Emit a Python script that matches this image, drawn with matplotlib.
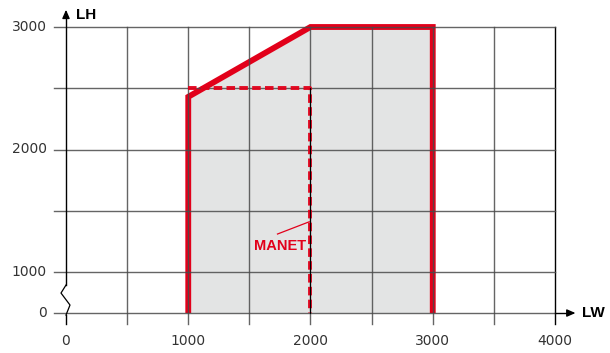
"""
Working range chart (LW x LH) with a broken y axis.
"""

import matplotlib
matplotlib.use('Agg')
import matplotlib.pyplot as plt

# Chart data
outline_x = [1000, 1000, 2000, 3000, 3000]
outline_y = [0, 2430, 3000, 3000, 0]
manet_x = [1000, 2000, 2000]
manet_y = [2500, 2500, 0]
x_grid = [500, 1000, 1500, 2000, 2500, 3000, 3500]
y_grid = [0, 1000, 1500, 2000, 2500, 3000]
x_labels = [0, 1000, 2000, 3000, 4000]
y_labels = [0, 1000, 2000, 3000]

RED = '#e2001a'
FILL = '#e3e4e4'
GRID = '#4a4a4a'
TEXT = '#333333'

# 0..1000 is squeezed (axis break)
SQUEEZE = 0.335


def fy(v):
    """Map an LH value to the plotted (broken) scale."""
    if v >= 1000:
        return v
    return 1000 - (1000 - v) * SQUEEZE


fig = plt.figure(figsize=(6.1, 3.53), dpi=100)
ax = fig.add_axes([0, 0, 1, 1])
ax.axis('off')

# pixel geometry: x0 at px 66, 122.25 px / 1000 ; y3000 at px 27, 122.5 px / 1000
ax.set_xlim(-66 / 0.12225, (610 - 66) / 0.12225)
ax.set_ylim(3000 - (353 - 27) / 0.1225, 3000 + 27 / 0.1225)

y_bottom = 3000 - (324 - 27) / 0.1225
x_left = -95

# fill + outline
oy = [fy(v) for v in outline_y]
ax.fill(outline_x, oy, color=FILL, zorder=1, lw=0)
ax.plot(outline_x, oy, color=RED, lw=4.2, solid_joinstyle='miter',
        solid_capstyle='butt', zorder=2)

# grid (drawn under the dashed limit, over the outline)
for gx in x_grid:
    ax.plot([gx, gx], [y_bottom, 3000], color=GRID, lw=1.0, alpha=0.85, zorder=3)
ax.plot([4000, 4000], [y_bottom, 3000], color='black', lw=1.0, zorder=3)
for gy in y_grid:
    ax.plot([x_left, 4000], [fy(gy), fy(gy)], color=GRID, lw=1.0, alpha=0.85, zorder=3)

# dashed MANET limit
my = [fy(v) for v in manet_y]
ax.plot(manet_x, my, color=RED, lw=2.8, linestyle=(0, (2.2, 1.1)),
        dash_capstyle='butt', zorder=4, alpha=0.95)
# thin black line through the vertical dashes, as in the reference
ax.plot([2000, 2000], [fy(0), 2500], color='black', lw=0.8, zorder=4.5)

# x axis extension + arrow
ax.plot([4000, 4120], [fy(0), fy(0)], color='black', lw=1.0, zorder=3)
ax.annotate('', xy=(4190, fy(0)), xytext=(4100, fy(0)),
            arrowprops=dict(arrowstyle='-|>,head_length=0.5,head_width=0.22',
                            color='black', lw=1.0), zorder=4)

# y axis with break zigzag
px = 1 / 0.1225  # one pixel in y units
pxx = 1 / 0.12225
y0 = fy(0)
ax.plot([0, 0], [y0 - 11 * px, y0 - 2 * px], color='black', lw=1.0, zorder=4)
ax.plot([0, 4 * pxx, -5 * pxx, 0], [y0 - 2 * px, y0 + 8 * px, y0 + 20 * px, y0 + 28 * px],
        color='black', lw=0.9, zorder=4)
ax.plot([0, 0], [y0 + 28 * px, 3100], color='black', lw=1.0, zorder=4)
ax.annotate('', xy=(0, 3000 + 20 * px), xytext=(0, 3080),
            arrowprops=dict(arrowstyle='-|>,head_length=0.5,head_width=0.22',
                            color='black', lw=1.0), zorder=4)

# tick labels
for v in x_labels:
    ax.text(v, y0 - 28 * px, f'{v}', ha='center', va='center',
            fontsize=10, color=TEXT, family='DejaVu Sans')
for v in y_labels:
    ax.text(-155, fy(v), f'{v}', ha='right', va='center',
            fontsize=10, color=TEXT, family='DejaVu Sans')

# axis names
ax.text(78, 3000 + 12 * px, 'LH', ha='left', va='center', fontsize=11,
        fontweight='bold', color='black', family='Liberation Sans')
ax.text(4220, fy(0), 'LW', ha='left', va='center', fontsize=11,
        fontweight='bold', color='black', family='Liberation Sans')

# MANET label + leader
ax.text(1750, 1212, 'MANET', ha='center', va='center', fontsize=10.5,
        fontweight='bold', color=RED, family='Liberation Sans', zorder=5)
ax.plot([1730, 1990], [1310, 1410], color=RED, lw=0.9, zorder=5)

fig.savefig('out.png', dpi=100)
